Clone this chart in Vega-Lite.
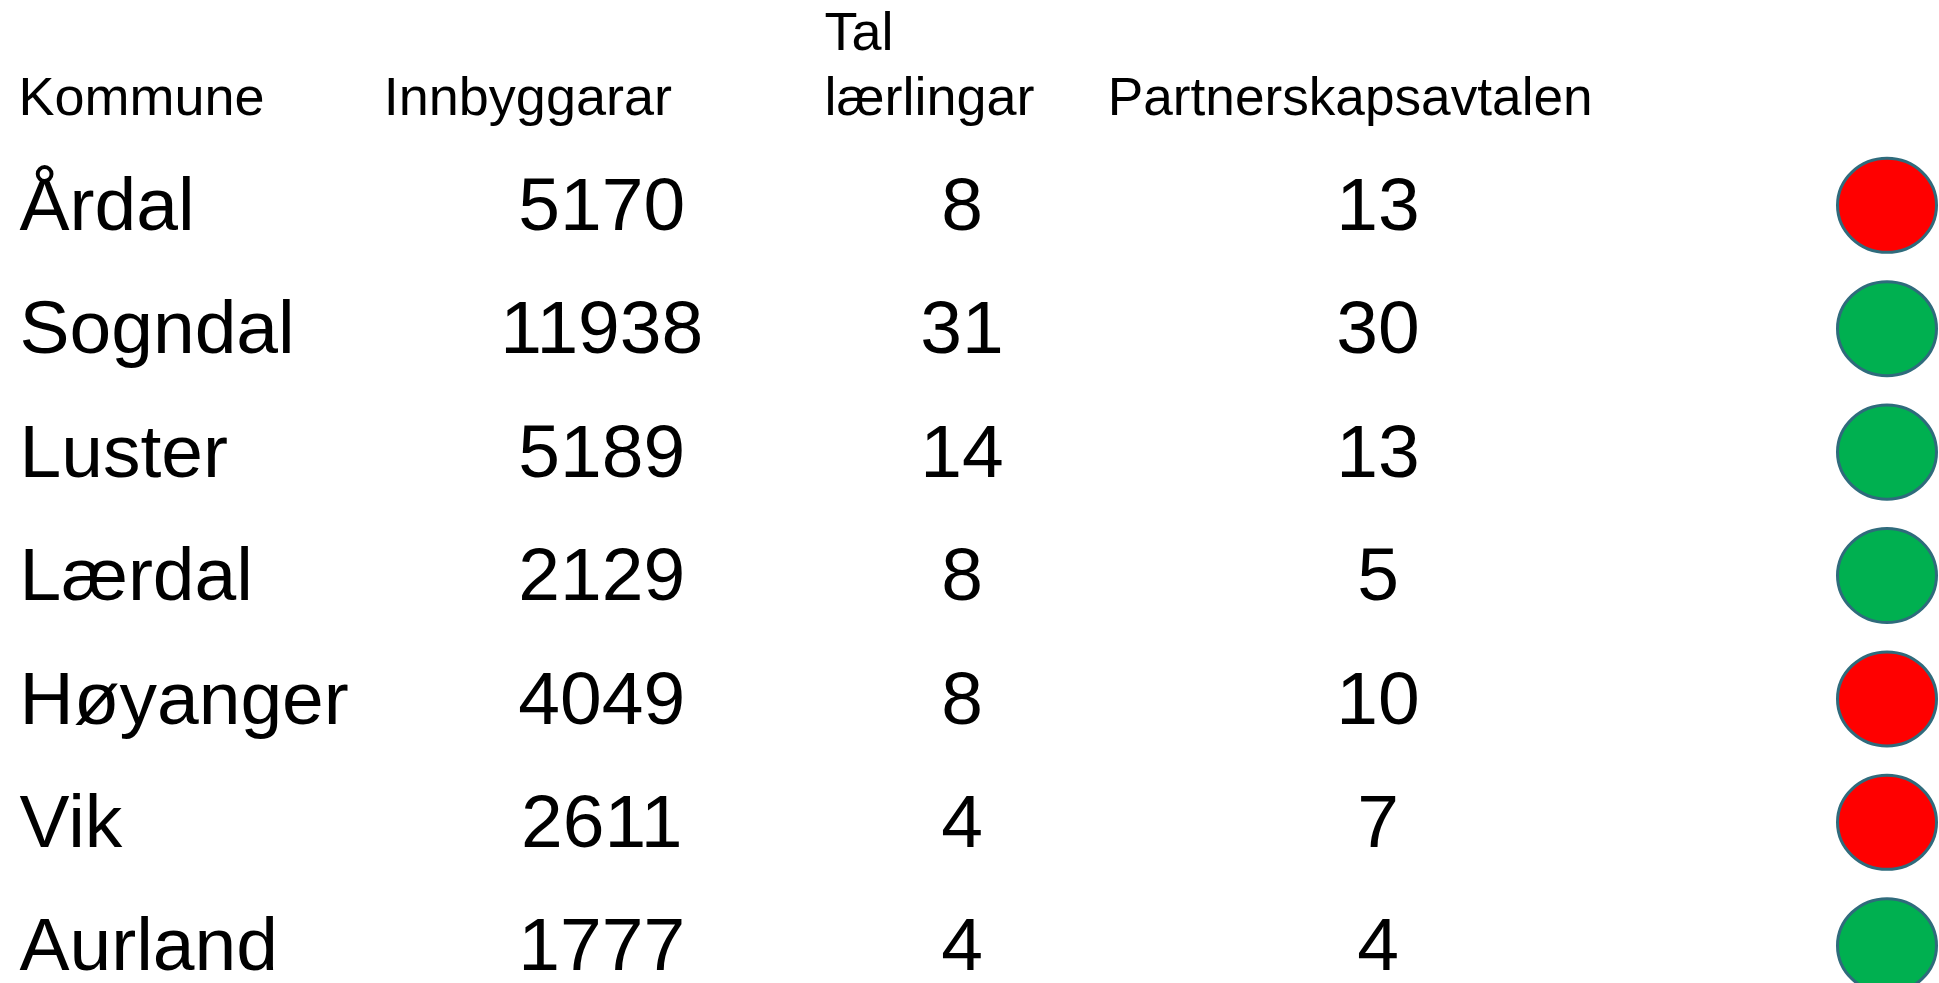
{
  "$schema": "https://vega.github.io/schema/vega-lite/v6.json",
  "width": 1887,
  "height": 863.8,
  "autosize": {"type": "none"},
  "padding": {"left": 0, "top": 81.9, "right": 52, "bottom": 37.3},
  "background": "white",
  "config": {"view": {"stroke": null}, "text": {"font": "Liberation Sans", "color": "#000000"}},
  "datasets": {
    "kommunar": [
      {"Kommune": "Årdal", "Innbyggarar": 5170, "Tal lærlingar": 8, "Partnerskapsavtalen": 13, "Status": "raud"},
      {"Kommune": "Sogndal", "Innbyggarar": 11938, "Tal lærlingar": 31, "Partnerskapsavtalen": 30, "Status": "grøn"},
      {"Kommune": "Luster", "Innbyggarar": 5189, "Tal lærlingar": 14, "Partnerskapsavtalen": 13, "Status": "grøn"},
      {"Kommune": "Lærdal", "Innbyggarar": 2129, "Tal lærlingar": 8, "Partnerskapsavtalen": 5, "Status": "grøn"},
      {"Kommune": "Høyanger", "Innbyggarar": 4049, "Tal lærlingar": 8, "Partnerskapsavtalen": 10, "Status": "raud"},
      {"Kommune": "Vik", "Innbyggarar": 2611, "Tal lærlingar": 4, "Partnerskapsavtalen": 7, "Status": "raud"},
      {"Kommune": "Aurland", "Innbyggarar": 1777, "Tal lærlingar": 4, "Partnerskapsavtalen": 4, "Status": "grøn"}
    ],
    "overskrifter": [
      {"kolonne": "Kommune", "tekst": "Kommune", "rad": ""},
      {"kolonne": "Innbyggarar", "tekst": "Innbyggarar", "rad": ""},
      {"kolonne": "Tal lærlingar", "tekst": "Tal\nlærlingar", "rad": ""},
      {"kolonne": "Partnerskapsavtalen", "tekst": "Partnerskapsavtalen", "rad": ""}
    ]
  },
  "layer": [
    {
      "data": {"name": "overskrifter"},
      "transform": [{"filter": "datum.kolonne === 'Kommune'"}],
      "mark": {"type": "text", "align": "left", "baseline": "alphabetic", "fontSize": 54, "dx": 18.5, "dy": 33.1},
      "encoding": {
        "x": {"field": "kolonne", "type": "nominal", "scale": {"type": "point", "domain": ["Kommune", "Innbyggarar", "Tal lærlingar", "Partnerskapsavtalen", "Status"], "padding": 0}, "axis": null},
        "y": {"field": "rad", "type": "nominal", "scale": {"type": "point", "domain": ["", "Årdal", "Sogndal", "Luster", "Lærdal", "Høyanger", "Vik", "Aurland"], "padding": 0}, "axis": null},
        "text": {"field": "tekst", "type": "nominal"}
      }
    },
    {
      "data": {"name": "overskrifter"},
      "transform": [{"filter": "datum.kolonne === 'Innbyggarar'"}],
      "mark": {"type": "text", "align": "left", "baseline": "alphabetic", "fontSize": 54, "dx": -88, "dy": 33.1},
      "encoding": {
        "x": {"field": "kolonne", "type": "nominal", "axis": null},
        "y": {"field": "rad", "type": "nominal", "axis": null},
        "text": {"field": "tekst", "type": "nominal"}
      }
    },
    {
      "data": {"name": "overskrifter"},
      "transform": [{"filter": "datum.kolonne === 'Tal lærlingar'"}],
      "mark": {"type": "text", "align": "left", "baseline": "alphabetic", "lineBreak": "\n", "lineHeight": 65.5, "fontSize": 54, "dx": -119, "dy": -32.4},
      "encoding": {
        "x": {"field": "kolonne", "type": "nominal", "axis": null},
        "y": {"field": "rad", "type": "nominal", "axis": null},
        "text": {"field": "tekst", "type": "nominal"}
      }
    },
    {
      "data": {"name": "overskrifter"},
      "transform": [{"filter": "datum.kolonne === 'Partnerskapsavtalen'"}],
      "mark": {"type": "text", "align": "left", "baseline": "alphabetic", "fontSize": 53.2, "dx": -307.5, "dy": 33.1},
      "encoding": {
        "x": {"field": "kolonne", "type": "nominal", "axis": null},
        "y": {"field": "rad", "type": "nominal", "axis": null},
        "text": {"field": "tekst", "type": "nominal"}
      }
    },
    {
      "data": {"name": "kommunar"},
      "mark": {"type": "text", "align": "left", "baseline": "alphabetic", "fontSize": 75, "dx": 19.5, "dy": 24.7},
      "encoding": {
        "x": {"datum": "Kommune", "type": "nominal", "axis": null},
        "y": {"field": "Kommune", "type": "nominal", "axis": null},
        "text": {"field": "Kommune", "type": "nominal"}
      }
    },
    {
      "data": {"name": "kommunar"},
      "mark": {"type": "text", "align": "center", "baseline": "alphabetic", "fontSize": 75, "dx": 130, "dy": 24.7},
      "encoding": {
        "x": {"datum": "Innbyggarar", "type": "nominal", "axis": null},
        "y": {"field": "Kommune", "type": "nominal", "axis": null},
        "text": {"field": "Innbyggarar", "type": "quantitative", "format": "d"}
      }
    },
    {
      "data": {"name": "kommunar"},
      "mark": {"type": "text", "align": "center", "baseline": "alphabetic", "fontSize": 75, "dx": 18.5, "dy": 24.7},
      "encoding": {
        "x": {"datum": "Tal lærlingar", "type": "nominal", "axis": null},
        "y": {"field": "Kommune", "type": "nominal", "axis": null},
        "text": {"field": "Tal lærlingar", "type": "quantitative", "format": "d"}
      }
    },
    {
      "data": {"name": "kommunar"},
      "mark": {"type": "text", "align": "center", "baseline": "alphabetic", "fontSize": 75, "dx": -37.25, "dy": 24.7},
      "encoding": {
        "x": {"datum": "Partnerskapsavtalen", "type": "nominal", "axis": null},
        "y": {"field": "Kommune", "type": "nominal", "axis": null},
        "text": {"field": "Partnerskapsavtalen", "type": "quantitative", "format": "d"}
      }
    },
    {
      "data": {"name": "kommunar"},
      "mark": {"type": "point", "shape": "M-1,0A1,0.95,0,1,0,1,0A1,0.95,0,1,0,-1,0Z", "size": 9801, "filled": true, "opacity": 1, "stroke": "#2F6B7C", "strokeWidth": 3},
      "encoding": {
        "x": {"datum": "Status", "type": "nominal", "axis": null},
        "y": {"field": "Kommune", "type": "nominal", "axis": null},
        "fill": {"field": "Status", "type": "nominal", "scale": {"domain": ["raud", "grøn"], "range": ["#FF0000", "#00B050"]}, "legend": null}
      }
    }
  ]
}
